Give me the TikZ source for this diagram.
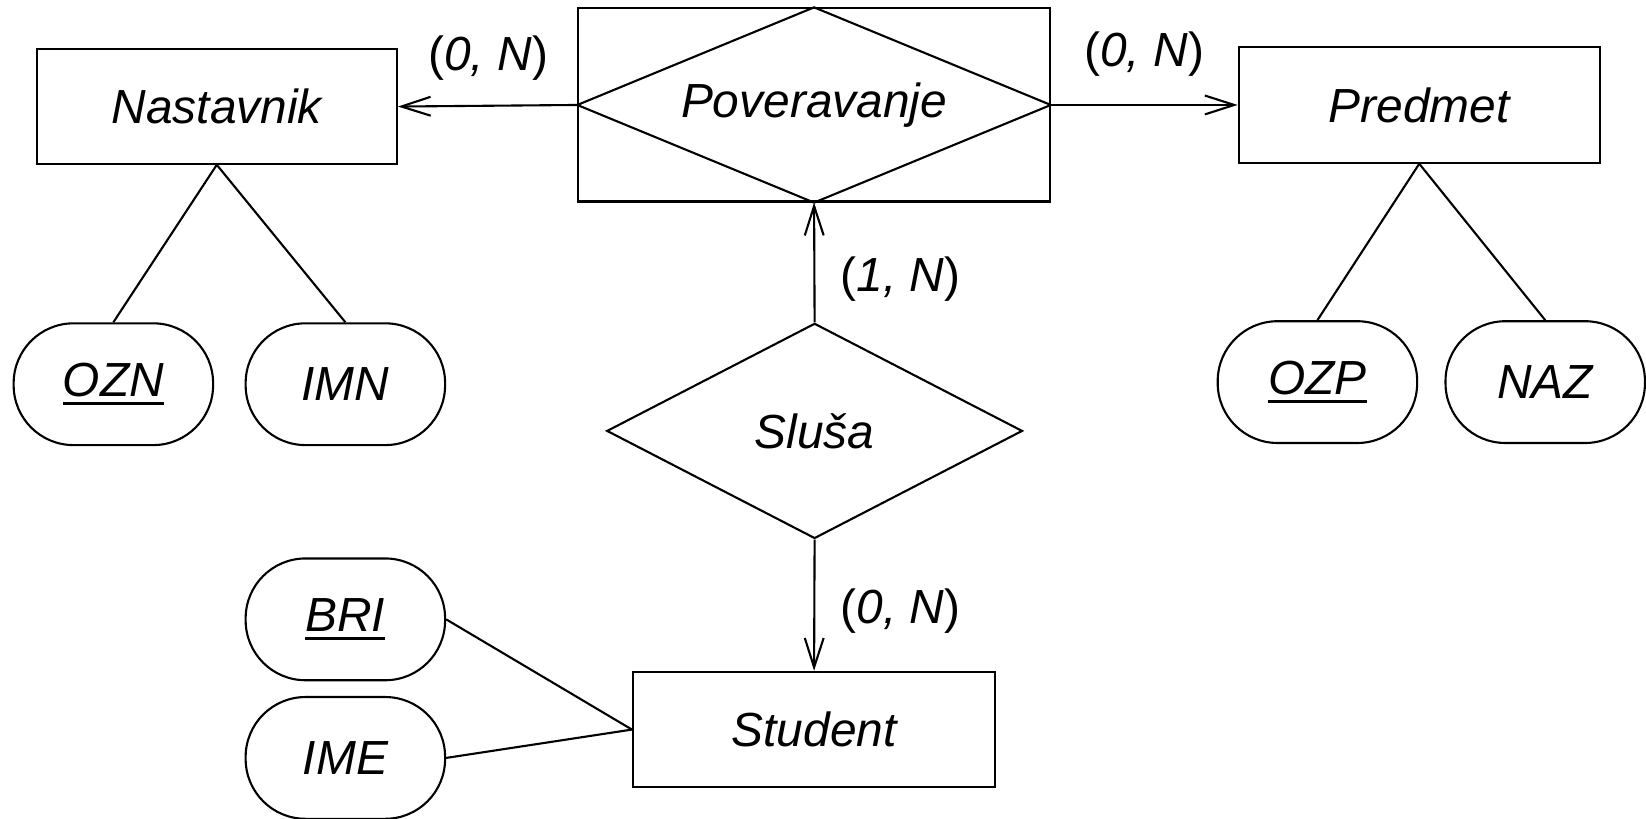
\documentclass[tikz,border=0pt]{standalone}
\usepackage{fontspec}
\setmainfont{Liberation Sans}
\usetikzlibrary{shapes.geometric,arrows.meta}
\newcommand\keyul[1]{\setbox0\hbox{#1}\rlap{\vrule height -2.6pt depth 4.1pt width \wd0}\box0}
\tikzset{
  every node/.style={font=\fontsize{22.8}{27}\selectfont\itshape},
  ent/.style={draw, line width=1pt, inner sep=0pt, rectangle},
  attr/.style={draw, line width=1pt, inner sep=0pt, rectangle, rounded corners=28.5pt,
    minimum width=95pt, minimum height=58pt},
  rel/.style={draw, line width=1pt, inner sep=0pt, diamond},
  conn/.style={line width=1pt},
  arr/.style={line width=1pt, -{Straight Barb[length=14pt,width=9pt,line width=1pt]}},
  card/.style={inner sep=0pt, font=\fontsize{22.8}{27}\selectfont\upshape}
}
\begin{document}
\begin{tikzpicture}[x=0.5pt,y=-0.5pt]
\useasboundingbox (0,0) rectangle (1568,780);
% entities
\node[ent, minimum width=171.5pt, minimum height=54.5pt] (nast) at (206.5,101.5) {Nastavnik};
\node[ent, minimum width=224.5pt, minimum height=92pt] (pov) at (775.5,100) {Poveravanje};
\node[ent, minimum width=172pt, minimum height=55pt] (pred) at (1352,100) {Predmet};
\node[ent, minimum width=172.5pt, minimum height=55pt] (stud) at (775.5,695) {Student};
\draw[conn] (pov.west) -- (pov.north) -- (pov.east) -- (pov.south) -- cycle;
% relationship
\node[rel, minimum width=198pt, minimum height=102.5pt] (slusa) at (776,410.5) {Sluša};
% attributes
\node[attr] (ozn) at (108,366) {\keyul{OZN}};
\node[attr] (imn) at (329,366) {IMN};
\node[attr] (ozp) at (1255,364) {\keyul{OZP}};
\node[attr] (naz) at (1472,364) {NAZ};
\node[attr] (bri) at (329,590) {\keyul{BRI}};
\node[attr] (ime) at (329,722) {IME};
% attribute links
\draw[conn] (nast.south) -- (ozn.north);
\draw[conn] (nast.south) -- (imn.north);
\draw[conn] (pred.south) -- (ozp.north);
\draw[conn] (pred.south) -- (naz.north);
\draw[conn] (bri.east) -- (stud.west);
\draw[conn] (ime.east) -- (stud.west);
% arrows
\draw[arr] (pov.west) -- (nast.east);
\draw[arr] (pov.east) -- (pred.west);
\draw[arr] (slusa.north) -- (pov.south);
\draw[arr] (slusa.south) -- (stud.north);
% cardinalities
\node[card] (c1) at (465,55) {(\textit{0, N})};
\node[card] (c2) at (1090,52) {(\textit{0, N})};
\node[card] (c3) at (858,266) {(\textit{1, N})};
\node[card] (c4) at (858,582) {(\textit{0, N})};
\end{tikzpicture}
\end{document}
